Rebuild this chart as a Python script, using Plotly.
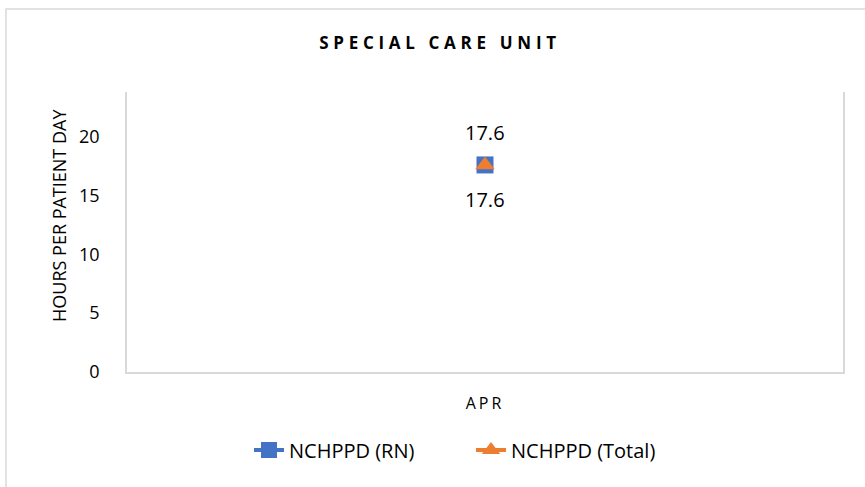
import plotly.graph_objects as go

categories = ["APR"]
rn_values = [17.6]
total_values = [17.6]
series_names = ["NCHPPD (RN)", "NCHPPD (Total)"]
title_text = "SPECIAL CARE UNIT"
y_title = "HOURS PER PATIENT DAY"
y_ticks = [0, 5, 10, 15, 20]

FONT = "Open Sans, Liberation Sans, sans-serif"
BLUE = "#4472C4"
ORANGE = "#ED7D31"

fig = go.Figure()
fig.add_trace(go.Scatter(
    x=categories, y=rn_values, name=series_names[0], mode="lines+markers",
    line=dict(color=BLUE, width=4),
    marker=dict(symbol="square", size=17, color=BLUE),
    cliponaxis=False,
))
fig.add_trace(go.Scatter(
    x=categories, y=total_values, name=series_names[1], mode="lines+markers",
    line=dict(color=ORANGE, width=4),
    marker=dict(symbol="triangle-up", size=17, color=ORANGE),
    cliponaxis=False,
))

L, R, T, B = 127, 22, 92, 115
W, H = 865, 487
pw = W - L - R
ph = H - T - B

def px_x(p):
    return (p - L) / pw

def px_y(p):
    return (H - B - p) / ph

annotations = []
for c, v in zip(categories, rn_values):
    annotations.append(dict(x=c, y=v, xref="x", yref="y", text=f"{v:.1f}", showarrow=False,
                            yshift=32, font=dict(size=20, family=FONT, color="#000000")))
for c, v in zip(categories, total_values):
    annotations.append(dict(x=c, y=v, xref="x", yref="y", text=f"{v:.1f}", showarrow=False,
                            yshift=-35, font=dict(size=20, family=FONT, color="#000000")))
annotations.append(dict(x=px_x(59), y=px_y(216), xref="paper", yref="paper", text=y_title,
                        textangle=-90, showarrow=False, xanchor="center", yanchor="middle",
                        font=dict(size=18, family=FONT, color="#000000")))

fig.update_layout(
    width=W, height=H,
    margin=dict(l=L, r=R, t=T, b=B),
    paper_bgcolor="white", plot_bgcolor="white",
    font=dict(family=FONT, color="#000000"),
    title=dict(text=f'<b><span style="letter-spacing:4.7px">{title_text}</span></b>',
               xref="container", yref="container",
               x=440 / W, xanchor="center", y=1 - 43 / H, yanchor="middle",
               font=dict(size=17, family=FONT, color="#000000")),
    showlegend=True,
    legend=dict(orientation="h", x=px_x(249), xanchor="left", y=px_y(450), yanchor="middle",
                font=dict(size=20, family=FONT, color="#000000"),
                entrywidth=177, entrywidthmode="pixels", traceorder="normal"),
    xaxis=dict(type="category", showgrid=False, zeroline=False,
               showline=True, linecolor="#D9D9D9", linewidth=1.5,
               ticks="", ticklabelstandoff=16,
               tickvals=categories,
               ticktext=[f'<span style="letter-spacing:3px">{c}</span>' for c in categories],
               tickfont=dict(size=16, family=FONT, color="#000000"),
               range=[-0.5, 0.5]),
    yaxis=dict(range=[0, 23.8], tickvals=y_ticks, showgrid=False, zeroline=False,
               showline=True, linecolor="#D9D9D9", linewidth=1.5, mirror=True,
               ticks="", ticklabelstandoff=22,
               tickfont=dict(size=18, family=FONT, color="#000000")),
    annotations=annotations,
    shapes=[dict(type="rect", xref="paper", yref="paper",
                 x0=px_x(6), x1=px_x(866), y0=px_y(9), y1=px_y(488),
                 line=dict(color="#D9D9D9", width=1.5), fillcolor="rgba(0,0,0,0)",
                 layer="below")],
)

fig.write_html("out.html", config={"displayModeBar": False},
               post_script="document.body.style.margin='0';")
